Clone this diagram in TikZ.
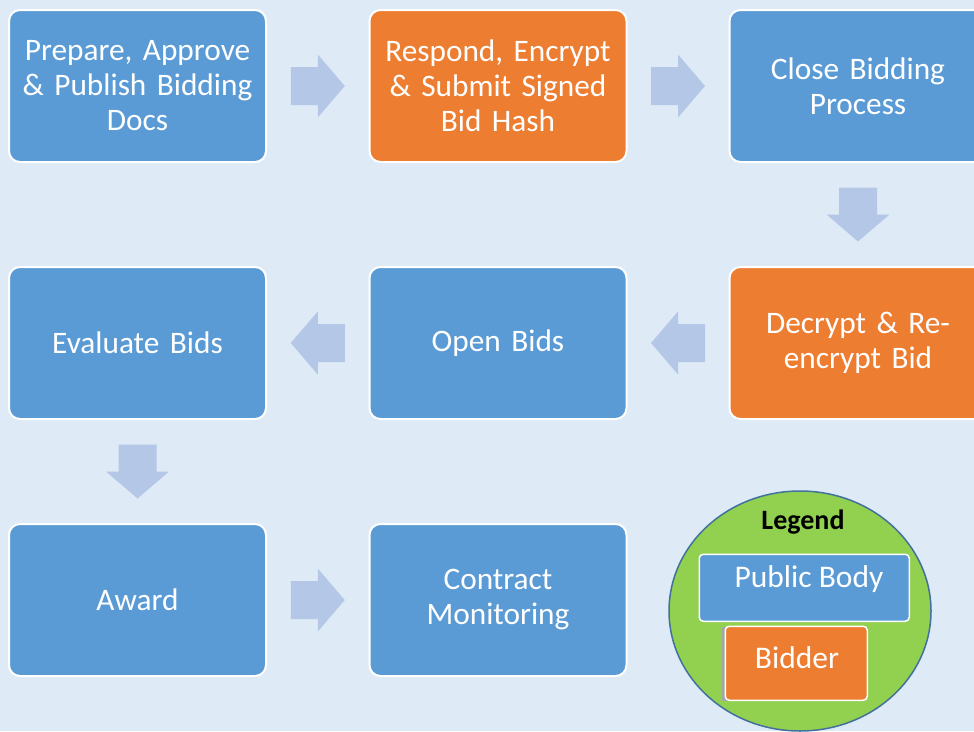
\documentclass[tikz,border=0pt]{standalone}
\usepackage{fontspec}
\setmainfont{Carlito}
\usetikzlibrary{calc}
\definecolor{bgblue}{HTML}{DEEAF6}
\definecolor{pubblue}{HTML}{5B9BD5}
\definecolor{bidorange}{HTML}{ED7D31}
\definecolor{flowarrow}{HTML}{B4C7E7}
\definecolor{legendgreen}{HTML}{92D050}
\definecolor{legendrim}{HTML}{41719C}
\begin{document}
\begin{tikzpicture}[x=1pt,y=-1pt,
  stage/.style={draw=white, line width=2pt, rounded corners=11pt,
    minimum width=257pt, minimum height=152pt, inner sep=0pt,
    text=white, align=center, text width=250pt,
    font=\fontsize{31.3}{35}\selectfont},
  public/.style={stage, fill=pubblue},
  bidder/.style={stage, fill=bidorange},
  blockarrow/.style={fill=flowarrow, draw=none},
  keybox/.style={draw=white, line width=1.5pt, rounded corners=4pt, inner sep=0pt},
  keytext/.style={text=white, font=\fontsize{31.5}{35}\selectfont},
  % block arrows, drawn around the point where the pic is placed
  rarrow/.pic={\path[blockarrow] (-27,-19) -- (0,-19) -- (0,-31.5) -- (27,0)
      -- (0,31.5) -- (0,19) -- (-27,19) -- cycle;},
  larrow/.pic={\path[blockarrow] (27,-19) -- (0,-19) -- (0,-31.5) -- (-27,0)
      -- (0,31.5) -- (0,19) -- (27,19) -- cycle;},
  darrow/.pic={\path[blockarrow] (-19,-27) -- (-19,0) -- (-31.5,0) -- (0,27)
      -- (31.5,0) -- (19,0) -- (19,-27) -- cycle;}
]
\useasboundingbox (0,0) rectangle (974,731);
\clip (0,0) rectangle (974,731);
\fill[bgblue] (0,0) rectangle (974,731);

% process stages
\node[public] (prep)  at (137.5,86)  {Prepare, Approve\\\& Publish Bidding\\Docs};
\node[bidder] (resp)  at (498,86)    {Respond, Encrypt\\\& Submit Signed\\Bid Hash};
\node[public] (close) at (858,86)    {Close Bidding\\Process};
\node[bidder] (decr)  at (858,343)   {Decrypt \& Re-\\encrypt Bid};
\node[public] (open)  at (498,343)   {Open Bids};
\node[public] (eval)  at (137.5,343) {Evaluate Bids};
\node[public] (award) at (137.5,600) {Award};
\node[public] (mon)   at (498,600)   {Contract\\Monitoring};

% flow between stages
\path ($(prep.east)!0.5!(resp.west)$) pic {rarrow};
\path ($(resp.east)!0.5!(close.west)$) pic {rarrow};
\path ($(close.south)!0.5!(decr.north)$) pic {darrow};
\path ($(decr.west)!0.5!(open.east)$) pic {larrow};
\path ($(open.west)!0.5!(eval.east)$) pic {larrow};
\path ($(eval.south)!0.5!(award.north)$) pic {darrow};
\path ($(award.east)!0.5!(mon.west)$) pic {rarrow};

% legend
\draw[fill=legendgreen, draw=legendrim, line width=1.5pt] (800,611) ellipse [x radius=131, y radius=120];
\node[font=\bfseries\fontsize{28}{30}\selectfont] (legtitle) at (803,522) {Legend};
\node[keybox, fill=pubblue, minimum width=210pt, minimum height=67pt,
  anchor=north west] (keypub) at (698.5,553.5) {};
\node[keytext] (keypubtext) at (809,579) {Public Body};
\fill[gray!70] (722,627) rectangle (865,701);
\node[keybox, fill=bidorange, minimum width=142pt, minimum height=74pt,
  anchor=north west] (keybid) at (724.5,625.5) {};
\node[keytext] (keybidtext) at (797,658) {Bidder};
\end{tikzpicture}
\end{document}
